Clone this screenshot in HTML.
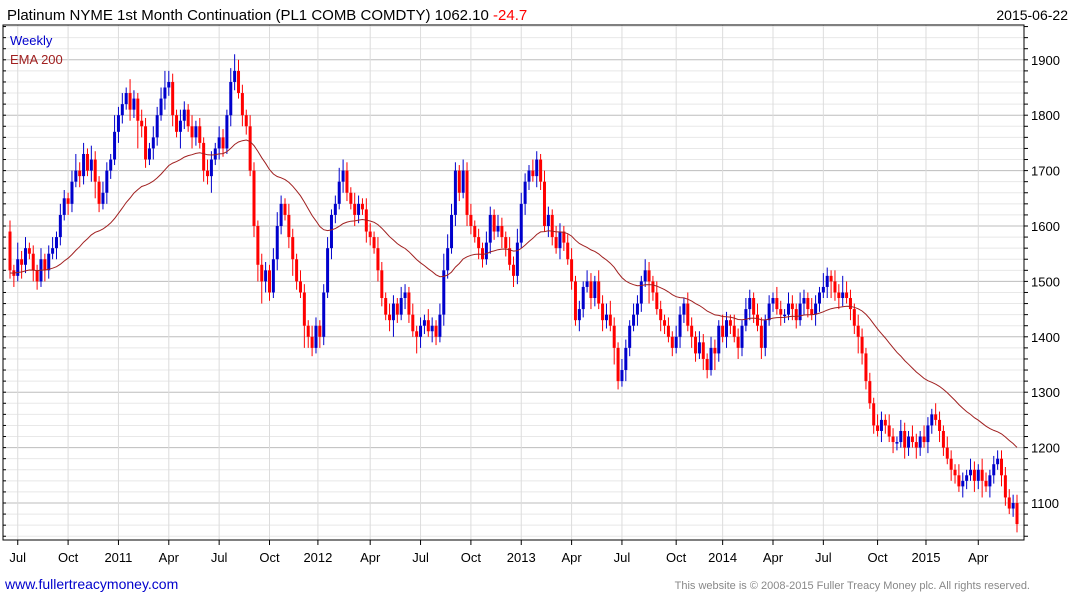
<!DOCTYPE html>
<html><head><meta charset="utf-8"><style>
body{margin:0;background:#fff;font-family:"Liberation Sans",sans-serif}
svg{display:block}
</style></head><body>
<svg id="c" width="1075" height="600" xmlns="http://www.w3.org/2000/svg">
<text x="7" y="20" font-size="15" fill="#000">Platinum NYME 1st Month Continuation (PL1 COMB COMDTY) 1062.10 <tspan fill="#ff0000">-24.7</tspan></text>
<text x="1068" y="20" font-size="14" text-anchor="end" fill="#000">2015-06-22</text>
<g id="grid"></g>
<g id="marks"></g>
<rect x="3" y="25" width="1021" height="515" fill="none" stroke="#000" stroke-width="1"/>
<text x="10" y="45" font-size="13" fill="#0000cc">Weekly</text>
<text x="10" y="64" font-size="13" fill="#a02020">EMA 200</text>
<text x="5" y="589" font-size="14" fill="#0000cc">www.fullertreacymoney.com</text>
<text x="1030" y="589" font-size="11" fill="#888" text-anchor="end">This website is © 2008-2015 Fuller Treacy Money plc. All rights reserved.</text>
</svg>
<script>
const closes=[1520,1510,1540,1530,1560,1550,1520,1500,1540,1520,1550,1560,1580,1620,1650,
1640,1680,1700,1690,1730,1700,1720,1680,1640,1660,1700,1720,1770,
1800,1820,1840,1810,1830,1790,1780,1720,1740,1760,1800,1830,1850,
1860,1800,1770,1790,1810,1780,1760,1780,1750,1700,1690,1720,1740,
1760,1740,1800,1860,1880,1840,1800,1780,1700,1600,1530,1500,1520,1480,
1540,1600,1640,1620,1580,1540,1500,1480,1420,1400,1380,1420,1400,
1480,1560,1620,1640,1680,1700,1660,1640,1620,1640,1630,1590,1580,
1560,1520,1470,1440,1430,1460,1440,1470,1480,1440,1410,1400,1420,
1430,1410,1420,1400,1440,1520,1560,1620,1700,1660,1700,1620,1600,
1580,1560,1540,1570,1620,1590,1600,1580,1560,1530,1510,1570,1640,
1680,1700,1690,1720,1680,1600,1620,1580,1560,1590,1570,1540,1500,
1430,1450,1490,1500,1470,1500,1460,1430,1440,1420,1380,1320,1340,
1380,1420,1440,1460,1500,1520,1500,1480,1450,1430,1420,1400,1380,
1400,1440,1460,1420,1400,1370,1390,1360,1340,1380,1370,1420,1400,
1430,1420,1400,1380,1420,1450,1470,1440,1420,1380,1430,1460,1470,
1450,1440,1440,1460,1450,1430,1460,1470,1450,1440,1460,1480,1490,
1510,1500,1480,1470,1480,1470,1450,1420,1400,1370,1320,1280,1240,
1230,1250,1240,1220,1210,1210,1230,1200,1220,1210,1200,1220,1210,
1240,1260,1250,1230,1200,1180,1160,1150,1130,1140,1150,1160,1140,
1160,1140,1130,1150,1170,1180,1150,1110,1090,1100,1062];
const wickUp=[20,10,30,15,20,10,15,10,20,10,15,20,10,20,15,10,20,30,15,20,10,25,15,10,20,15,10,30,15,20,10,25,15,10,20,15,10,20,15,20,30,
20,15,10,20,15,10,20,10,15,10,20,15,10,20,15,10,25,30,20,15,10,20,15,10,20,15,10,20,25,15,10,20,15,10,20,15,10,20,15,10,
15,20,10,15,25,20,15,10,20,15,10,20,15,10,20,15,10,20,15,10,20,15,10,20,10,15,10,20,15,10,20,30,25,20,15,10,20,
15,20,10,15,10,20,15,10,20,15,10,20,15,25,20,15,10,20,15,10,20,15,10,20,15,10,
15,20,10,15,10,20,15,10,20,15,20,25,15,10,20,15,10,20,15,10,20,15,10,20,15,10,
15,10,20,15,10,20,15,10,20,15,10,20,15,10,20,15,10,20,15,10,20,15,10,20,15,10,
15,10,20,15,10,20,15,10,20,15,10,20,15,10,25,15,10,20,15,30,20,15,10,20,15,10,
15,10,20,15,10,20,15,10,20,15,10,20,15,10,20,15,10,20,15,10,20,15,10,20,15,10,20,15,10,20,15,10];
const wickDown=[15,20,10,25,15,10,20,15,10,20,15,10,20,15,10,20,15,10,20,15,10,20,30,15,10,20,15,10,20,15,10,20,15,50,20,15,10,20,15,10,20,
15,20,10,30,15,10,20,15,10,20,15,30,10,20,15,10,20,15,10,20,15,10,20,30,40,20,15,10,20,15,10,20,30,15,10,40,20,15,10,20,
15,10,20,15,10,20,15,10,20,15,10,20,15,10,20,15,10,20,30,15,10,20,15,10,30,20,15,10,20,15,10,20,15,10,20,15,10,20,
15,10,20,15,10,20,15,10,20,15,10,20,15,10,20,15,10,20,15,10,20,15,10,20,15,10,
15,10,20,15,10,20,15,10,20,15,10,30,15,10,20,15,10,20,15,10,40,15,10,20,15,10,
15,10,20,15,10,20,15,10,20,15,10,30,15,10,20,15,10,20,15,10,20,15,10,20,15,10,
15,10,20,15,10,20,15,10,20,15,10,20,15,10,20,30,15,20,15,10,20,15,30,20,15,10,
15,10,20,15,10,20,15,10,20,15,10,20,15,10,20,15,10,20,15,10,20,15,10,20,15,10,20,15,30,10,20,15,10,20,15,10];
const yTicks=[1100,1200,1300,1400,1500,1600,1700,1800,1900];
const xLabels=["Jul","Oct","2011","Apr","Jul","Oct","2012","Apr","Jul","Oct","2013","Apr","Jul","Oct","2014","Apr","Jul","Oct","2015","Apr"];
const xLabelWeeks=[2,15,28,41,54,67,79.5,93,106,119,132,145,158,172,184,197,210,224,236.5,250];
const emaStart=1515, emaSpan=40;

const NS="http://www.w3.org/2000/svg";
const svg=document.getElementById('c'),grid=document.getElementById('grid'),marks=document.getElementById('marks');
const n=closes.length;
const xS=i=>10+i*(1007/(n-1));
const yS=v=>503-(v-1100)*0.554;
function mk(t,a,p){const e=document.createElementNS(NS,t);for(const k in a)e.setAttribute(k,a[k]);p.appendChild(e);return e;}
for(let v=1040;v<=1960;v+=20){const y=yS(v);if(y<26||y>539)continue;
 const l=mk('line',{x1:3,x2:1024,y1:y,y2:y,stroke:(v%100===0)?'#bdbdbd':'#e8e8e8','stroke-width':1},grid);
 
 
 mk('line',{x1:1024,x2:1028,y1:y,y2:y,stroke:'#000'},grid);
 mk('line',{x1:3,x2:6,y1:y,y2:y,stroke:'#000'},grid);}
yTicks.forEach(v=>{const t=mk('text',{x:1031,y:yS(v)+5,'font-size':13,fill:'#000'},svg);t.textContent=v;
 
 });
xLabels.forEach((s,k)=>{const x=xS(xLabelWeeks[k]);
 const l=mk('line',{x1:x,x2:x,y1:25,y2:540,stroke:'#dcdcdc'},grid);
 
 
 mk('line',{x1:x,x2:x,y1:540,y2:545,stroke:'#000'},grid);
 const t=mk('text',{x:x,y:562,'font-size':13,'text-anchor':'middle',fill:'#000'},svg);t.textContent=s;
 
 });
for(let i=0;i<n;i++){const o=i?closes[i-1]:1590,c=closes[i];
 const wu=(wickUp[i]!==undefined)?wickUp[i]:15, wd=(wickDown[i]!==undefined)?wickDown[i]:15;
 const hi=Math.max(o,c)+wu,lo=Math.min(o,c)-wd;
 const col=c>=o?'#0000cc':'#ff0000',x=xS(i);
 const w=mk('line',{x1:x,x2:x,y1:yS(hi),y2:yS(lo),stroke:col,'stroke-width':1},marks);
 
 
 const top=yS(Math.max(o,c)),bot=yS(Math.min(o,c));
 const r=mk('rect',{x:x-1.5,y:top,width:3,height:Math.max(1.5,bot-top),fill:col},marks);
 
 }
let e=emaStart;const a=2/(emaSpan+1);let d='';
for(let i=0;i<n;i++){e=e+a*(closes[i]-e);d+=(i?'L':'M')+xS(i).toFixed(1)+' '+yS(e).toFixed(1);}
const p=mk('path',{d:d,fill:'none',stroke:'#a02020','stroke-width':1},marks);


</script>
</body></html>
